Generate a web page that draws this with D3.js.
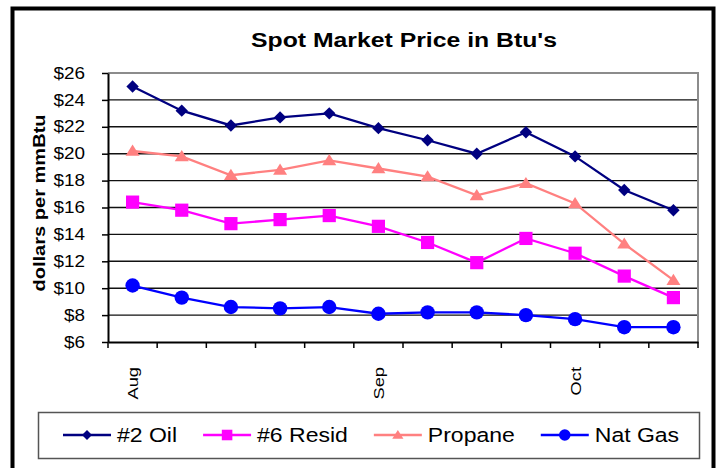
<!DOCTYPE html>
<html>
<head>
<meta charset="utf-8">
<script src="https://cdn.jsdelivr.net/npm/d3@7"></script>
<style>
  html, body { margin: 0; padding: 0; background: #fff; }
  svg { display: block; }
  text { font-family: Arial, "Liberation Sans", sans-serif; fill: #000; }
</style>
</head>
<body>
<div id="chart"></div>
<script>
// weekly spot prices, dollars per mmBtu
const weeks = ['Aug 1', 'Aug 8', 'Aug 15', 'Aug 22', 'Aug 29', 'Sep 5',
  'Sep 12', 'Sep 19', 'Sep 26', 'Oct 3', 'Oct 10', 'Oct 17'];
const yTicks = [6, 8, 10, 12, 14, 16, 18, 20, 22, 24, 26];

const oil = [25.0, 23.2, 22.1, 22.7, 23.0, 21.9, 21.0, 20.0, 21.6, 19.8, 17.3, 15.8];
const resid = [16.4, 15.8, 14.8, 15.1, 15.4, 14.6, 13.4, 11.9, 13.7, 12.6, 10.9, 9.3];
const propane = [20.2, 19.8, 18.4, 18.8, 19.5, 18.9, 18.3, 16.9, 17.8, 16.3, 13.3, 10.6];
const natGas = [10.2, 9.3, 8.6, 8.5, 8.6, 8.1, 8.2, 8.2, 8.0, 7.7, 7.1, 7.1];

const series = [
  {name: '#2 Oil', values: oil, color: '#000080', marker: 'diamond'},
  {name: '#6 Resid', values: resid, color: '#ff00ff', marker: 'square'},
  {name: 'Propane', values: propane, color: '#ff8080', marker: 'triangle'},
  {name: 'Nat Gas', values: natGas, color: '#0000ff', marker: 'circle'}
];

const width = 717, height = 468;
const plot = {left: 108, right: 698, top: 73, bottom: 342};
const SX = 1.18; // text in the original renders wide

function markerPath(type, k) {
  if (type === 'diamond') {
    const r = 6.2 * k;
    return `M0,${-r}L${r},0L0,${r}L${-r},0Z`;
  }
  if (type === 'square') {
    const r = 6.6 * k;
    return `M${-r},${-r}H${r}V${r}H${-r}Z`;
  }
  if (type === 'triangle') {
    const w = 7 * k, h = 6.4 * k;
    return `M0,${-h}L${w},${h * 0.75}L${-w},${h * 0.75}Z`;
  }
  return d3.symbol(d3.symbolCircle, Math.PI * Math.pow(7.2 * k, 2))();
}

function monthLabel(w, i) {
  const m = w.split(' ')[0];
  if (i === 0 || weeks[i - 1].split(' ')[0] !== m) return m;
  return '';
}

const svg = d3.select('#chart').append('svg')
  .attr('width', width)
  .attr('height', height);

// outer frame
svg.append('rect')
  .attr('x', 12.5).attr('y', 8.5)
  .attr('width', 701).attr('height', 500)
  .attr('fill', '#fff')
  .attr('stroke', '#000')
  .attr('stroke-width', 4);

const x = d3.scaleBand().domain(weeks).range([plot.left, plot.right]);
const y = d3.scaleLinear().domain([6, 26]).range([plot.bottom, plot.top]);
const cx = (d, i) => x(weeks[i]) + x.bandwidth() / 2;

// gridlines
svg.append('g')
  .selectAll('line')
  .data(yTicks.filter(v => v > 6 && v < 26))
  .join('line')
  .attr('x1', plot.left).attr('x2', plot.right)
  .attr('y1', d => y(d)).attr('y2', d => y(d))
  .attr('stroke', '#111')
  .attr('stroke-width', 1.4);

// plot area border (top and right)
svg.append('path')
  .attr('d', `M${plot.left},${y(26)}H${plot.right}V${plot.bottom}`)
  .attr('fill', 'none')
  .attr('stroke', '#8c8c8c')
  .attr('stroke-width', 2);

// y axis
const yAxis = svg.append('g')
  .attr('transform', `translate(${plot.left},0)`)
  .call(d3.axisLeft(y).tickValues(yTicks).tickSize(6).tickSizeOuter(0).tickFormat(d => '$' + d));
yAxis.select('.domain').attr('stroke-width', 2);
yAxis.selectAll('.tick line').attr('stroke-width', 1.5);
yAxis.selectAll('.tick text')
  .attr('x', -23 / SX)
  .attr('transform', `scale(${SX},1)`)
  .style('font-size', '16px');

// x axis
const xAxis = svg.append('g')
  .attr('transform', `translate(0,${plot.bottom})`)
  .call(d3.axisBottom(x).tickSize(0).tickSizeOuter(0).tickFormat(() => ''));
xAxis.select('.domain').attr('stroke-width', 2);
xAxis.append('g')
  .selectAll('line')
  .data(weeks.map(w => x(w)).concat([plot.right]))
  .join('line')
  .attr('x1', d => d).attr('x2', d => d)
  .attr('y1', 0).attr('y2', 6)
  .attr('stroke', '#000')
  .attr('stroke-width', 1.5);

// month names under the first week of each month
svg.append('g')
  .selectAll('text')
  .data(weeks.map((w, i) => ({w, label: monthLabel(w, i)})).filter(d => d.label))
  .join('text')
  .attr('text-anchor', 'end')
  .style('font-size', '15.5px')
  .attr('transform', d => `translate(${x(d.w) + x.bandwidth() / 2 + 5.5},${plot.bottom + 25}) rotate(-90) scale(${SX},1)`)
  .text(d => d.label);

// series
const line = d3.line().x(cx).y(d => y(d));
const gSeries = svg.append('g')
  .selectAll('g')
  .data(series)
  .join('g');

gSeries.append('path')
  .attr('d', s => line(s.values))
  .attr('fill', 'none')
  .attr('stroke', s => s.color)
  .attr('stroke-width', 2.3);

gSeries.each(function (s) {
  d3.select(this).selectAll('path.mk')
    .data(s.values)
    .join('path')
    .attr('class', 'mk')
    .attr('d', markerPath(s.marker, 1))
    .attr('transform', (d, i) => `translate(${cx(d, i)},${y(d)})`)
    .attr('fill', s.color);
});

// title
svg.append('text')
  .attr('transform', `translate(${(plot.left + plot.right) / 2 + 1},47) scale(${SX},1)`)
  .attr('text-anchor', 'middle')
  .style('font-size', '21px')
  .style('font-weight', 'bold')
  .text("Spot Market Price in Btu's");

// y axis title
svg.append('text')
  .attr('transform', `translate(45,203) rotate(-90) scale(${SX},1)`)
  .attr('text-anchor', 'middle')
  .style('font-size', '17px')
  .style('font-weight', 'bold')
  .text('dollars per mmBtu');

// legend
const legend = svg.append('g');
legend.append('rect')
  .attr('x', 38.5).attr('y', 412.5)
  .attr('width', 661).attr('height', 46)
  .attr('fill', '#fff')
  .attr('stroke', '#555')
  .attr('stroke-width', 1.5);

let lx = 63;
const ly = 435;
series.forEach(s => {
  const item = legend.append('g').attr('transform', `translate(${lx},${ly})`);
  item.append('line')
    .attr('x1', 0).attr('x2', 48)
    .attr('stroke', s.color)
    .attr('stroke-width', 2.3);
  item.append('path')
    .attr('d', markerPath(s.marker, 0.8))
    .attr('transform', 'translate(24,0)')
    .attr('fill', s.color);
  const t = item.append('text')
    .attr('transform', `translate(54,7) scale(${SX},1)`)
    .style('font-size', '19.5px')
    .text(s.name);
  lx += 54 + t.node().getComputedTextLength() * SX + 26;
});
</script>
</body>
</html>
